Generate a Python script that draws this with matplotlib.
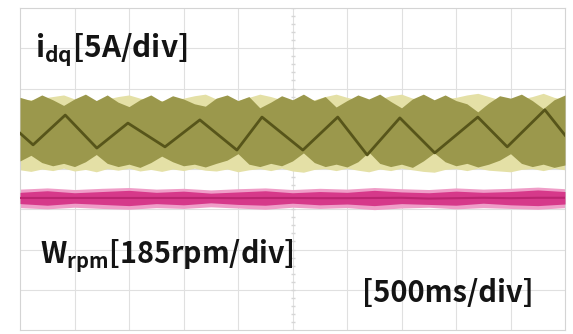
import numpy as np
import matplotlib
matplotlib.use("Agg")
import matplotlib.pyplot as plt

# scope screen: 10 x 8 divisions
n_xdiv, n_ydiv = 10, 8

# i_dq trace: triangle ripple vertices (div)
tri_x = [0.0, 0.24, 0.83, 1.41, 1.98, 2.66, 3.30, 3.98, 4.44, 5.19, 5.83,
         6.37, 6.97, 7.61, 8.40, 8.94, 9.63, 10.0]
tri_y = [4.89, 4.60, 5.34, 4.52, 5.14, 4.55, 5.22, 4.47, 5.29, 4.47, 5.29,
         4.35, 5.27, 4.40, 5.29, 4.55, 5.47, 4.84]

# i_dq band envelopes, sampled every 0.2 div
band_top = [5.78, 5.70, 5.84, 5.72, 5.58, 5.74, 5.86, 5.70, 5.84, 5.66, 5.55,
            5.72, 5.84, 5.68, 5.82, 5.74, 5.62, 5.56, 5.76, 5.84, 5.70, 5.80,
            5.52, 5.66, 5.82, 5.72, 5.86, 5.70, 5.80, 5.54, 5.70, 5.84, 5.74,
            5.86, 5.68, 5.52, 5.74, 5.86, 5.72, 5.84, 5.70, 5.62, 5.42, 5.64,
            5.82, 5.76, 5.86, 5.70, 5.50, 5.72, 5.84]
halo_top = [5.74, 5.72, 5.76, 5.80, 5.84, 5.74, 5.72, 5.70, 5.74, 5.80, 5.84,
            5.76, 5.72, 5.70, 5.72, 5.76, 5.82, 5.86, 5.74, 5.72, 5.70, 5.78,
            5.86, 5.80, 5.72, 5.70, 5.74, 5.72, 5.80, 5.86, 5.78, 5.72, 5.70,
            5.74, 5.82, 5.86, 5.76, 5.72, 5.70, 5.74, 5.78, 5.84, 5.88, 5.80,
            5.72, 5.70, 5.74, 5.80, 5.88, 5.78, 5.72]
band_bot = [4.20, 4.34, 4.16, 4.08, 4.14, 4.06, 4.18, 4.36, 4.14, 4.06, 4.12,
            4.04, 4.16, 4.32, 4.18, 4.08, 4.12, 4.05, 4.14, 4.22, 4.38, 4.12,
            4.06, 4.14, 4.08, 4.20, 4.40, 4.16, 4.06, 4.12, 4.05, 4.18, 4.42,
            4.14, 4.06, 4.12, 4.04, 4.20, 4.40, 4.18, 4.08, 4.14, 4.05, 4.12,
            4.22, 4.38, 4.14, 4.06, 4.12, 4.04, 4.10]
halo_bot = [3.98, 3.94, 4.00, 3.96, 4.02, 3.95, 3.99, 3.93, 4.01, 3.97, 4.02,
            3.95, 3.99, 3.94, 4.00, 3.96, 4.02, 3.97, 3.95, 4.00, 3.93, 3.98,
            4.01, 3.96, 4.02, 3.95, 3.92, 3.99, 4.01, 3.96, 4.02, 3.97, 3.93,
            4.00, 3.96, 4.02, 3.98, 3.94, 3.92, 3.99, 4.01, 3.96, 4.02, 3.97,
            3.95, 3.93, 3.99, 4.01, 3.96, 4.02, 3.98]

# speed trace envelopes, sampled every 0.5 div
spd_halo_top = [3.50, 3.53, 3.49, 3.52, 3.54, 3.50, 3.52, 3.48, 3.51, 3.53, 3.49,
                3.52, 3.50, 3.54, 3.51, 3.49, 3.53, 3.50, 3.52, 3.55, 3.51]
spd_top = [3.42, 3.46, 3.41, 3.44, 3.47, 3.42, 3.45, 3.40, 3.43, 3.46, 3.41,
           3.44, 3.42, 3.47, 3.43, 3.41, 3.45, 3.42, 3.44, 3.48, 3.44]
spd_bot = [3.14, 3.10, 3.15, 3.12, 3.09, 3.14, 3.11, 3.16, 3.12, 3.10, 3.15,
           3.11, 3.13, 3.09, 3.14, 3.12, 3.10, 3.15, 3.11, 3.09, 3.13]
spd_halo_bot = [3.04, 3.01, 3.05, 3.02, 3.00, 3.04, 3.02, 3.06, 3.03, 3.00, 3.05,
                3.02, 3.04, 2.99, 3.03, 3.05, 3.01, 3.04, 3.02, 3.00, 3.04]

label_i = ("i", "dq", "[5A/div]")
label_w = ("W", "rpm", "[185rpm/div]")
label_t = "[500ms/div]"

font = ["Noto Sans CJK KR", "DejaVu Sans"]

fig = plt.figure(figsize=(5.73, 3.34), dpi=100)
ax = fig.add_axes([20 / 573, 4 / 334, 545 / 573, 322 / 334])
ax.set_xlim(0, n_xdiv)
ax.set_ylim(0, n_ydiv)

# graticule
for gx in range(1, n_xdiv):
    ax.axvline(gx, color="#e0e0e0", lw=0.8, zorder=0)
for gy in range(1, n_ydiv):
    ax.axhline(gy, color="#e0e0e0", lw=0.8, zorder=0)
ax.plot(np.full(41, 5.0), np.linspace(0, 8, 41), ls="none", marker="_",
        ms=3, color="#d6d6d6", zorder=0)
for s in ax.spines.values():
    s.set_color("#d4d4d4")
    s.set_linewidth(0.8)
ax.set_xticks([])
ax.set_yticks([])

# i_dq band
xb = np.linspace(0, n_xdiv, len(band_top))
ax.fill_between(xb, halo_bot, halo_top, color="#e4e0a6", lw=0, zorder=2)
ax.fill_between(xb, band_bot, band_top, color="#9b984c", lw=0, zorder=3)
ax.plot(tri_x, tri_y, color="#57551a", lw=2.0, zorder=4)

# speed band
xs = np.linspace(0, n_xdiv, len(spd_top))
ax.fill_between(xs, spd_halo_bot, spd_halo_top, color="#ef9ec8", lw=0, zorder=2)
ax.fill_between(xs, spd_bot, spd_top, color="#d6398a", lw=0, zorder=3)
ax.plot(xs, [(a + b) / 2 for a, b in zip(spd_top, spd_bot)],
        color="#bb2470", lw=1.5, zorder=4)

ax.text(0.28, 6.78, r"$\mathregular{%s_{%s}}$%s" % label_i, family=font,
        weight="bold", fontsize=21.5, color="#141414", va="baseline", zorder=5)
ax.text(0.37, 1.66, r"$\mathregular{%s_{%s}}$%s" % label_w, family=font,
        weight="bold", fontsize=20.7, color="#141414", va="baseline", zorder=5)
ax.text(6.28, 0.70, label_t, family=font, weight="bold", fontsize=21,
        color="#141414", va="baseline", zorder=5)

fig.savefig("out.png", dpi=100)
